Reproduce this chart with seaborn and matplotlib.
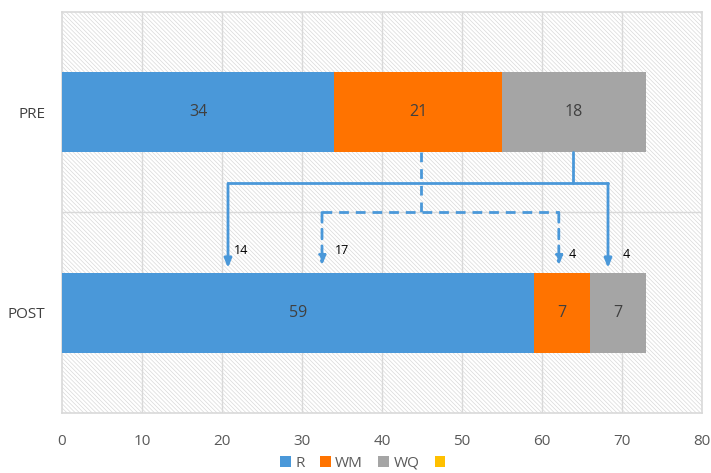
import matplotlib
matplotlib.use("Agg")
import matplotlib.pyplot as plt
from matplotlib.patches import Rectangle, Patch
import seaborn as sns
import pandas as pd

# Data
phases = ["PRE", "POST"]
r_vals = [34, 59]
wm_vals = [21, 7]
wq_vals = [18, 7]
series_names = ["R", "WM", "WQ", ""]
colors = ["#4A98D9", "#FF7300", "#A5A5A5", "#FFC000"]

# Transition flows from PRE segments into POST segments
flow_solid_counts = [14, 4]    # from WQ
flow_dashed_counts = [17, 4]   # from WM

sns.set_theme(style="white")
plt.rcParams["font.family"] = ["Open Sans", "DejaVu Sans"]
plt.rcParams["hatch.color"] = "#d9d9d9"
plt.rcParams["hatch.linewidth"] = 0.5

df = pd.DataFrame({"phase": phases, "R": r_vals, "WM": wm_vals, "WQ": wq_vals})
df["c1"] = df["R"]
df["c2"] = df["R"] + df["WM"]
df["c3"] = df["R"] + df["WM"] + df["WQ"]

fig = plt.figure(figsize=(7.11, 4.73), dpi=100)
ax = fig.add_axes([62 / 711, 1 - 413 / 473, 640 / 711, 401 / 473])

# hatched plot background
ax.add_patch(Rectangle((0, 0), 1, 1, transform=ax.transAxes, facecolor="white",
                       edgecolor="#d9d9d9", hatch="\\\\\\\\\\\\\\\\", lw=0, zorder=0))

# stacked bars drawn as overlapping cumulative totals
for col, color in zip(["c3", "c2", "c1"], [colors[2], colors[1], colors[0]]):
    sns.barplot(data=df, x=col, y="phase", orient="h", color=color, width=0.4,
                saturation=1, ax=ax, zorder=3, linewidth=0)

ax.set_xlim(0, 80)
ax.set_ylim(1.5, -0.5)
ax.set_xticks(range(0, 81, 10))
ax.set_xlabel("")
ax.set_ylabel("")

for x in range(10, 80, 10):
    ax.axvline(x, color="#d9d9d9", lw=1, zorder=1)
ax.axhline(0.5, color="#d9d9d9", lw=1, zorder=1)
for s in ax.spines.values():
    s.set_color("#d9d9d9")
    s.set_linewidth(1.2)

ax.tick_params(axis="x", length=0, pad=15, labelsize=11, labelcolor="#595959")
ax.tick_params(axis="y", length=0, pad=12, labelsize=11, labelcolor="#404040")

# segment value labels
for i in range(len(phases)):
    starts = [0, r_vals[i], r_vals[i] + wm_vals[i]]
    for start, val in zip(starts, [r_vals[i], wm_vals[i], wq_vals[i]]):
        ax.text(start + val / 2, i, str(val), ha="center", va="center",
                fontsize=11.5, color="#404040", zorder=5)

blue = "#4A98D9"
# solid flow: from WQ of PRE
wq_drop = 63.9
ys = 0.355
left_x, right_x = 20.75, 68.25
ax.plot([wq_drop, wq_drop], [0.2, ys], color=blue, lw=2, zorder=4)
ax.plot([left_x, right_x], [ys, ys], color=blue, lw=2, zorder=4)
arrow_solid = dict(arrowstyle="-|>,head_length=0.45,head_width=0.18", color=blue, lw=2,
                   shrinkA=0, shrinkB=0)
for x in (left_x, right_x):
    ax.annotate("", xy=(x, 0.777), xytext=(x, ys), arrowprops=arrow_solid, zorder=4)

# dashed flow: from WM of PRE
wm_drop = 44.9
yd = 0.5
dl_x, dr_x = 32.5, 62.1
ax.plot([wm_drop, wm_drop], [0.2, yd], color=blue, lw=2, ls=(0, (3.5, 2.5)), zorder=4)
ax.plot([dl_x, dr_x], [yd, yd], color=blue, lw=2, ls=(0, (3.5, 2.5)), zorder=4)
arrow_dash = dict(arrowstyle="-|>,head_length=0.45,head_width=0.18", color=blue, lw=2,
                  ls=(0, (3.5, 2.5)), shrinkA=0, shrinkB=0)
for x in (dl_x, dr_x):
    ax.annotate("", xy=(x, 0.765), xytext=(x, yd), arrowprops=arrow_dash, zorder=4)

label_y = 0.69
ax.text(left_x + 0.8, label_y, str(flow_solid_counts[0]), fontsize=9, color="black",
        va="center", ha="left", zorder=5)
ax.text(right_x + 1.8, label_y + 0.02, str(flow_solid_counts[1]), fontsize=9, color="black",
        va="center", ha="left", zorder=5)
ax.text(dl_x + 1.6, label_y, str(flow_dashed_counts[0]), fontsize=9, color="black",
        va="center", ha="left", zorder=5)
ax.text(dr_x + 1.2, label_y + 0.02, str(flow_dashed_counts[1]), fontsize=9, color="black",
        va="center", ha="left", zorder=5)

handles = [Patch(facecolor=c, edgecolor="none") for c in colors]
fig.legend(handles, series_names, loc="center", bbox_to_anchor=(365 / 711, 1 - 463 / 473),
           ncol=4, frameon=False, fontsize=11, handlelength=0.7, handleheight=0.7,
           handletextpad=0.3, columnspacing=1.0, labelcolor="#595959")

fig.savefig("out.png", dpi=100)
